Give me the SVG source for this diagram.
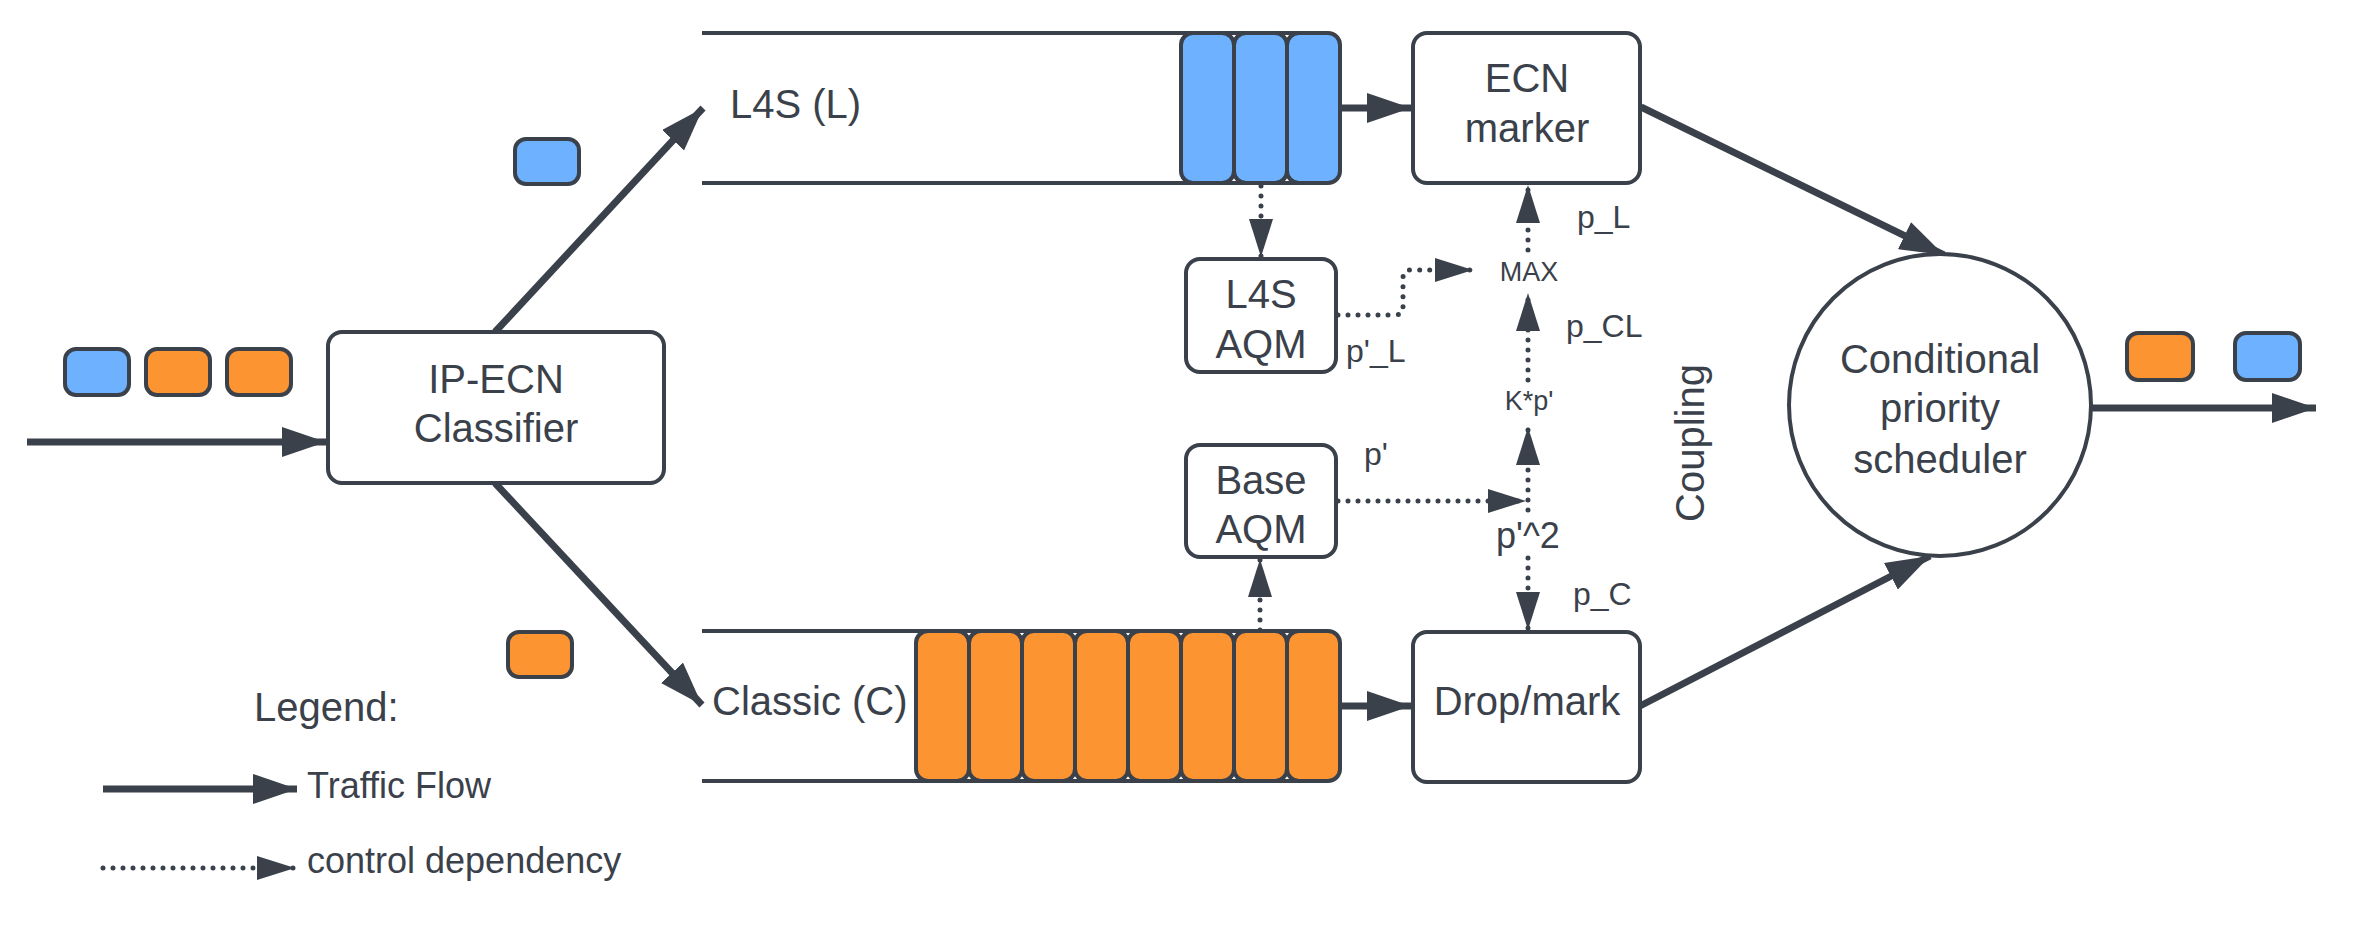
<svg xmlns="http://www.w3.org/2000/svg" width="2353" height="928" viewBox="0 0 2353 928">
<style>
.box{fill:#fff;stroke:#3a414a;stroke-width:4}
.pb{fill:#6db1ff;stroke:#3a414a;stroke-width:4}
.po{fill:#fc9432;stroke:#3a414a;stroke-width:4}
.qline{stroke:#3a414a;stroke-width:4;fill:none}
.flow{stroke:#3a414a;stroke-width:7;fill:none;marker-end:url(#ah)}
.ctrl{stroke:#3a414a;stroke-width:5;fill:none;stroke-dasharray:0 10;stroke-linecap:round;marker-end:url(#ch)}
text{font-family:"Liberation Sans",Arial,sans-serif;fill:#3a414a}
.t40{font-size:40px}
.t36{font-size:36px}
.t32{font-size:32px}
.t27{font-size:27px}
.mid{text-anchor:middle}
</style>
<defs>
<marker id="ah" markerUnits="userSpaceOnUse" markerWidth="44" markerHeight="30" refX="44" refY="15" orient="auto">
<path d="M0,0 L44,15 L0,30 z" fill="#3a414a"/>
</marker>
<marker id="ch" markerUnits="userSpaceOnUse" markerWidth="38" markerHeight="24" refX="38" refY="12" orient="auto">
<path d="M0,0 L38,12 L0,24 z" fill="#3a414a"/>
</marker>
</defs>
<rect width="2353" height="928" fill="#fff"/>

<g id="connectors">
<line class="flow" x1="27" y1="442" x2="326" y2="442"/>
<line class="flow" x1="495" y1="332" x2="703" y2="108"/>
<line class="flow" x1="495" y1="483" x2="702" y2="705"/>
<line class="flow" x1="1342" y1="108" x2="1411" y2="108"/>
<line class="flow" x1="1342" y1="706" x2="1411" y2="706"/>
<line class="flow" x1="1641" y1="107" x2="1944" y2="255"/>
<line class="flow" x1="1640" y1="706" x2="1930" y2="556"/>
<line class="flow" x1="2092" y1="408" x2="2316" y2="408"/>
<path class="ctrl" d="M1261,186 L1261,257"/>
<path class="ctrl" d="M1260,630 L1260,559"/>
<path class="ctrl" d="M1338,315 L1395,315 Q1403,315 1403,307 L1403,278 Q1403,270 1411,270 L1473,270"/>
<path class="ctrl" d="M1338,501 L1526,501"/>
<path class="ctrl" d="M1528,510 L1528,427"/>
<path class="ctrl" d="M1528,558 L1528,630"/>
<path class="ctrl" d="M1528,380 L1528,293"/>
<path class="ctrl" d="M1528,250 L1528,185"/>
</g>

<g id="packets-in">
<rect class="pb" x="65" y="349" width="64" height="46" rx="11"/>
<rect class="po" x="146" y="349" width="64" height="46" rx="11"/>
<rect class="po" x="227" y="349" width="64" height="46" rx="11"/>
</g>
<g id="packet-l4s">
<rect class="pb" x="515" y="139" width="64" height="45" rx="11"/>
</g>
<g id="packet-classic">
<rect class="po" x="508" y="632" width="64" height="45" rx="11"/>
</g>
<g id="packets-out">
<rect class="po" x="2127" y="333" width="66" height="47" rx="11"/>
<rect class="pb" x="2235" y="333" width="65" height="47" rx="11"/>
</g>

<g id="classifier">
<rect class="box" x="328" y="332" width="336" height="151" rx="14"/>
<text class="t40 mid" x="496" y="393">IP-ECN</text>
<text class="t40 mid" x="496" y="442">Classifier</text>
</g>

<g id="l4s-queue">
<line class="qline" x1="702" y1="33" x2="1300" y2="33"/>
<line class="qline" x1="702" y1="183" x2="1300" y2="183"/>
<rect class="pb" x="1181" y="33" width="53" height="150" rx="12"/>
<rect class="pb" x="1234" y="33" width="53" height="150" rx="12"/>
<rect class="pb" x="1287" y="33" width="53" height="150" rx="12"/>
<text class="t40" x="730" y="118">L4S (L)</text>
</g>

<g id="classic-queue">
<line class="qline" x1="702" y1="631" x2="1300" y2="631"/>
<line class="qline" x1="702" y1="781" x2="1300" y2="781"/>
<rect class="po" x="916" y="631" width="53" height="150" rx="12"/>
<rect class="po" x="969" y="631" width="53" height="150" rx="12"/>
<rect class="po" x="1022" y="631" width="53" height="150" rx="12"/>
<rect class="po" x="1075" y="631" width="53" height="150" rx="12"/>
<rect class="po" x="1128" y="631" width="53" height="150" rx="12"/>
<rect class="po" x="1181" y="631" width="53" height="150" rx="12"/>
<rect class="po" x="1234" y="631" width="53" height="150" rx="12"/>
<rect class="po" x="1287" y="631" width="53" height="150" rx="12"/>
<text class="t40" x="712" y="715">Classic (C)</text>
</g>

<g id="ecn-marker">
<rect class="box" x="1413" y="33" width="227" height="150" rx="14"/>
<text class="t40 mid" x="1527" y="92">ECN</text>
<text class="t40 mid" x="1527" y="142">marker</text>
</g>

<g id="drop-mark">
<rect class="box" x="1413" y="632" width="227" height="150" rx="14"/>
<text class="t40 mid" x="1527" y="715">Drop/mark</text>
</g>

<g id="l4s-aqm">
<rect class="box" x="1186" y="259" width="150" height="113" rx="14"/>
<text class="t40 mid" x="1261" y="308">L4S</text>
<text class="t40 mid" x="1261" y="358">AQM</text>
</g>

<g id="base-aqm">
<rect class="box" x="1186" y="445" width="150" height="112" rx="14"/>
<text class="t40 mid" x="1261" y="494">Base</text>
<text class="t40 mid" x="1261" y="543">AQM</text>
</g>

<g id="scheduler">
<circle class="box" cx="1940" cy="405" r="151"/>
<text class="t40 mid" x="1940" y="373">Conditional</text>
<text class="t40 mid" x="1940" y="422">priority</text>
<text class="t40 mid" x="1940" y="473">scheduler</text>
</g>

<g id="labels">
<text class="t32" x="1577" y="228">p_L</text>
<text class="t27 mid" x="1529" y="281">MAX</text>
<text class="t32" x="1566" y="337">p_CL</text>
<text class="t27 mid" x="1529" y="410">K*p'</text>
<text class="t32" x="1346" y="362">p'_L</text>
<text class="t32" x="1364" y="465">p'</text>
<text class="t36" x="1496" y="548">p'^2</text>
<text class="t32" x="1573" y="605">p_C</text>
<text class="t40 mid" transform="translate(1704,443) rotate(-90)">Coupling</text>
</g>

<g id="legend">
<text class="t40" x="254" y="721">Legend:</text>
<line class="flow" x1="103" y1="789" x2="297" y2="789"/>
<text class="t36" x="307" y="798">Traffic Flow</text>
<path class="ctrl" d="M103,868 L295,868"/>
<text class="t36" x="307" y="873">control dependency</text>
</g>
</svg>
